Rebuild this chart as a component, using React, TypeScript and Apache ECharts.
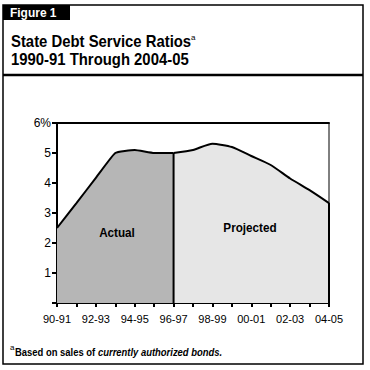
import React, { useEffect, useRef } from "react";
import * as echarts from "echarts";

const years = ["90-91", "91-92", "92-93", "93-94", "94-95", "95-96", "96-97", "97-98", "98-99", "99-00", "00-01", "01-02", "02-03", "03-04", "04-05"];
const actualValues = [2.5, 3.33, 4.17, 5.0, 5.1, 5.0, 5.0];
const projectedValues = [5.0, 5.1, 5.31, 5.2, 4.9, 4.6, 4.15, 3.76, 3.33];
const yMax = 6;
const titleLines = ["State Debt Service Ratios", "1990-91 Through 2004-05"];
const footnotePlain = "Based on sales of ";
const footnoteItalic = "currently authorized bonds.";

const FONT = "'Liberation Sans', Arial, sans-serif";

export default function App() {
  const ref = useRef<HTMLDivElement>(null);
  useEffect(() => {
    if (!ref.current) return;
    const chart = echarts.init(ref.current, null, { renderer: "svg" });
    const splitIdx = actualValues.length - 1;
    const lastIdx = years.length - 1;
    const actualData = years.map((_, i) => (i < actualValues.length ? actualValues[i] : null));
    const projectedData = years.map((_, i) => (i >= splitIdx ? projectedValues[i - splitIdx] : null));

    chart.setOption({
      animation: false,
      backgroundColor: "#fff",
      grid: { left: 57, right: 41, top: 123, bottom: 67, show: true, borderColor: "#000", borderWidth: 1 },
      xAxis: [
        {
          type: "category",
          data: years,
          boundaryGap: false,
          axisLine: { lineStyle: { color: "#000", width: 2 } },
          axisTick: { show: true, interval: 0, length: 4, lineStyle: { color: "#000", width: 2 } },
          axisLabel: { interval: 1, color: "#000", fontFamily: FONT, fontSize: 11, margin: 10 },
          splitLine: { show: false },
        },
        {
          type: "category",
          data: years,
          boundaryGap: false,
          position: "top",
          axisLine: { lineStyle: { color: "#000", width: 2 } },
          axisTick: { show: false },
          axisLabel: { show: false },
        },
      ],
      yAxis: {
        type: "value",
        min: 0,
        max: yMax,
        interval: 1,
        axisLine: { show: true, lineStyle: { color: "#000", width: 2 } },
        axisTick: { show: true, length: 5, lineStyle: { color: "#000", width: 2 } },
        axisLabel: {
          color: "#000",
          fontFamily: FONT,
          fontSize: 12,
          margin: 6,
          formatter: (v: number) => (v === 0 ? "" : v === yMax ? v + "%" : String(v)),
        },
        splitLine: { show: false },
      },
      series: [
        {
          type: "line",
          data: actualData,
          symbol: "none",
          smooth: 0.12,
          lineStyle: { color: "#000", width: 2 },
          areaStyle: { color: "#b6b6b6", opacity: 1 },
          z: 2,
        },
        {
          type: "line",
          data: projectedData,
          symbol: "none",
          smooth: 0.2,
          lineStyle: { color: "#000", width: 2 },
          areaStyle: { color: "#e6e6e6", opacity: 1 },
          z: 2,
        },
        {
          type: "line",
          data: [[splitIdx, 0], [splitIdx, actualValues[splitIdx]]],
          symbol: "none",
          lineStyle: { color: "#000", width: 2 },
          z: 3,
        },
        {
          type: "line",
          data: [[lastIdx, 0], [lastIdx, projectedValues[projectedValues.length - 1]]],
          symbol: "none",
          lineStyle: { color: "#000", width: 2 },
          z: 3,
        },
      ],
      graphic: [
        { type: "rect", shape: { x: 3, y: 5, width: 360, height: 359 }, style: { fill: "none", stroke: "#000", lineWidth: 1.5 }, z: 10 },
        { type: "rect", shape: { x: 3, y: 5, width: 67, height: 15 }, style: { fill: "#000" }, z: 10 },
        { type: "line", shape: { x1: 3, y1: 75, x2: 363, y2: 75 }, style: { stroke: "#000", lineWidth: 2.5 }, z: 10 },
        { type: "text", x: 10, y: 12.5, scaleX: 0.92, style: { text: "Figure 1", fill: "#fff", font: `bold 13px ${FONT}`, verticalAlign: "middle" }, z: 11 },
        { type: "text", x: 11, y: 41, scaleX: 0.93, style: { text: titleLines[0], fill: "#000", font: `bold 16px ${FONT}`, verticalAlign: "middle" }, z: 11 },
        { type: "text", x: 191, y: 37, style: { text: "a", fill: "#000", font: `8px ${FONT}`, verticalAlign: "middle" }, z: 11 },
        { type: "text", x: 11, y: 59, scaleX: 0.93, style: { text: titleLines[1], fill: "#000", font: `bold 16px ${FONT}`, verticalAlign: "middle" }, z: 11 },
        { type: "text", x: 117, y: 233, scaleX: 0.9, style: { text: "Actual", fill: "#000", font: `bold 13px ${FONT}`, align: "center", verticalAlign: "middle" }, z: 11 },
        { type: "text", x: 250, y: 228, scaleX: 0.9, style: { text: "Projected", fill: "#000", font: `bold 13px ${FONT}`, align: "center", verticalAlign: "middle" }, z: 11 },
        { type: "text", x: 10, y: 347, style: { text: "a", fill: "#000", font: `8px ${FONT}`, verticalAlign: "middle" }, z: 11 },
        {
          type: "text",
          x: 15,
          y: 352,
          scaleX: 0.9,
          style: {
            text: `{n|${footnotePlain}}{i|${footnoteItalic}}`,
            verticalAlign: "middle",
            rich: {
              n: { font: `bold 10.5px ${FONT}`, fill: "#000" },
              i: { font: `italic bold 10.5px ${FONT}`, fill: "#000" },
            },
          },
          z: 11,
        },
      ],
    });
    return () => chart.dispose();
  }, []);
  return <div ref={ref} style={{ position: "fixed", left: 0, top: 0, width: 370, height: 370 }} />;
}
